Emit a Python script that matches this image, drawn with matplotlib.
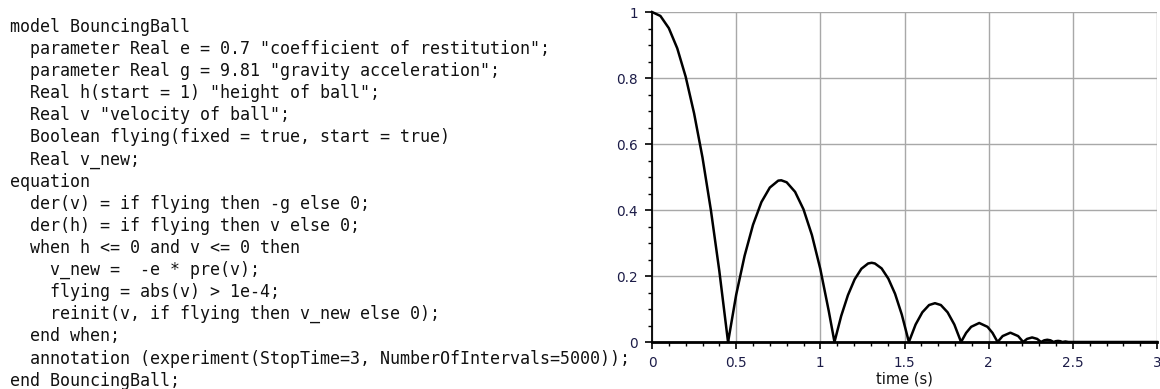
"""
Bouncing ball: Modelica source on the left, simulated height on the right
"""
import matplotlib
matplotlib.use("Agg")
import matplotlib.pyplot as plt
from matplotlib.ticker import MultipleLocator, FuncFormatter

# Modelica listing shown next to the plot
code_lines = [
    'model BouncingBall',
    '  parameter Real e = 0.7 "coefficient of restitution";',
    '  parameter Real g = 9.81 "gravity acceleration";',
    '  Real h(start = 1) "height of ball";',
    '  Real v "velocity of ball";',
    '  Boolean flying(fixed = true, start = true)',
    '  Real v_new;',
    'equation',
    '  der(v) = if flying then -g else 0;',
    '  der(h) = if flying then v else 0;',
    '  when h <= 0 and v <= 0 then',
    '    v_new =  -e * pre(v);',
    '    flying = abs(v) > 1e-4;',
    '    reinit(v, if flying then v_new else 0);',
    '  end when;',
    '  annotation (experiment(StopTime=3, NumberOfIntervals=5000));',
    'end BouncingBall;',
]

# height of ball (time in s, height)
time = [0.0, 0.05, 0.10, 0.15, 0.20, 0.25, 0.30, 0.35, 0.40, 0.45, 0.452,
        0.50, 0.55, 0.60, 0.65, 0.70, 0.75, 0.768, 0.80, 0.85, 0.90, 0.95, 1.00, 1.05, 1.084,
        1.124, 1.164, 1.204, 1.244, 1.284, 1.305, 1.324, 1.364, 1.404, 1.444, 1.484, 1.526,
        1.566, 1.606, 1.646, 1.681, 1.716, 1.756, 1.796, 1.836,
        1.866, 1.896, 1.944, 1.993, 2.023, 2.053,
        2.083, 2.129, 2.175, 2.205,
        2.228, 2.258, 2.288, 2.311,
        2.330, 2.348, 2.367, 2.386,
        2.399, 2.412, 2.425, 2.438,
        2.456, 2.474, 3.0]
height = [1.0, 0.988, 0.951, 0.890, 0.804, 0.693, 0.559, 0.399, 0.215, 0.007, 0.0,
          0.143, 0.261, 0.355, 0.424, 0.468, 0.489, 0.490, 0.484, 0.455, 0.402, 0.324, 0.221, 0.094, 0.0,
          0.079, 0.142, 0.190, 0.222, 0.238, 0.240, 0.238, 0.223, 0.192, 0.146, 0.083, 0.0,
          0.053, 0.090, 0.112, 0.1176, 0.112, 0.090, 0.053, 0.0,
          0.0275, 0.046, 0.0576, 0.046, 0.0275, 0.0,
          0.018, 0.0282, 0.018, 0.0,
          0.0094, 0.0138, 0.0094, 0.0,
          0.0051, 0.0068, 0.0051, 0.0,
          0.0025, 0.0033, 0.0025, 0.0,
          0.0016, 0.0, 0.0]

fig = plt.figure(figsize=(11.6, 3.89), dpi=100)

# code listing
y0 = 1 - 27 / 389
dy = 22.1 / 389
for i, line in enumerate(code_lines):
    fig.text(10 / 1160, y0 - i * dy, line, family="DejaVu Sans Mono",
             fontsize=12.0, va="center", ha="left", color="#111111")

ax = fig.add_axes([652 / 1160, 1 - 342 / 389, 505 / 1160, 330 / 389])
ax.plot(time, height, color="black", lw=1.8, zorder=3, clip_on=False)

ax.set_xlim(0, 3)
ax.set_ylim(0, 1)
ax.xaxis.set_major_locator(MultipleLocator(0.5))
ax.xaxis.set_minor_locator(MultipleLocator(0.1))
ax.yaxis.set_major_locator(MultipleLocator(0.2))
ax.yaxis.set_minor_locator(MultipleLocator(0.05))
fmt = FuncFormatter(lambda v, p: "{:g}".format(round(v, 2)))
ax.xaxis.set_major_formatter(fmt)
ax.yaxis.set_major_formatter(fmt)
ax.grid(True, which="major", color="#a8a8a8", lw=1.0)
for s in ["top", "right"]:
    ax.spines[s].set_visible(False)
ax.spines["left"].set_linewidth(1.3)
ax.spines["bottom"].set_linewidth(2.0)
ax.spines["left"].set_zorder(4)
ax.spines["bottom"].set_zorder(4)
ax.tick_params(which="major", length=5, width=1.2, color="black",
               labelsize=9.8, labelcolor="#1c1c48", pad=5)
ax.tick_params(which="minor", length=3, width=1.0, color="black")
ax.set_xlabel("time (s)", fontsize=10.5, labelpad=1.5, color="#111111")

fig.savefig("out.png", dpi=100)
